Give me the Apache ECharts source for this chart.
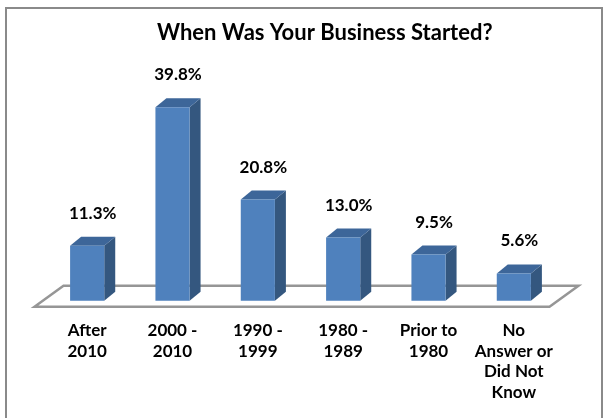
<!DOCTYPE html>
<html>
<head>
<meta charset="utf-8">
<script src="https://cdn.jsdelivr.net/npm/echarts@6/dist/echarts.min.js"></script>
<style>
  html, body { margin: 0; padding: 0; background: #fff; }
  #chart { width: 605px; height: 418px; }
</style>
</head>
<body>
<div id="chart"></div>
<script>
// data
var categories = ['After\n2010', '2000 -\n2010', '1990 -\n1999', '1980 -\n1989', 'Prior to\n1980', 'No\nAnswer or\nDid Not\nKnow'];
var shares = [11.3, 39.8, 20.8, 13.0, 9.5, 5.6];

var FONT = 'Lato, "Open Sans", sans-serif';
var DX = 11, DY = -9;   // depth offset of the 3d boxes

var chart = echarts.init(document.getElementById('chart'));

function renderBox(params, api) {
  var idx = api.value(0);
  var val = api.value(1);
  var top = api.coord([idx, val]);
  var base = api.coord([idx, 0]);
  var band = api.size([1, 0])[0];
  var w = band * 0.4;
  var x0 = top[0] - w / 2, x1 = top[0] + w / 2;
  var yt = top[1], yb = base[1];
  var children = [];

  if (params.dataIndex === 0) {
    // floor under the bars
    var cs = params.coordSys;
    var fb = yb - 15, ff = yb + 6;
    children.push({
      type: 'polygon',
      shape: { points: [[cs.x - 10, ff], [cs.x + 19, fb], [cs.x + cs.width + 22, fb], [cs.x + cs.width - 7, ff]] },
      style: { fill: '#fff', stroke: '#969696', lineWidth: 2.5 }
    });
  }

  children.push({
    type: 'polygon',
    shape: { points: [[x1, yt], [x1 + DX, yt + DY], [x1 + DX, yb + DY], [x1, yb]] },
    style: { fill: '#34577f' }
  });
  children.push({
    type: 'polygon',
    shape: { points: [[x0, yt], [x0 + DX, yt + DY], [x1 + DX, yt + DY], [x1, yt]] },
    style: { fill: '#3d6699' }
  });
  children.push({
    type: 'rect',
    shape: { x: x0, y: yt, width: w, height: yb - yt },
    style: { fill: '#4f81bd' }
  });
  children.push({
    type: 'text',
    x: top[0] + DX / 2,
    y: yt + DY - 15,
    style: {
      text: val.toFixed(1) + '%',
      fill: '#000',
      font: 'bold 17px ' + FONT,
      align: 'center',
      verticalAlign: 'bottom'
    }
  });
  return { type: 'group', children: children };
}

chart.setOption({
  animation: false,
  backgroundColor: '#fff',
  title: {
    text: 'When Was Your Business Started?',
    left: 152,
    top: 17,
    textStyle: { fontFamily: FONT, fontWeight: 'bold', fontSize: 22, color: '#000' }
  },
  graphic: [{
    type: 'rect',
    shape: { x: 6, y: 8, width: 596, height: 430 },
    style: { fill: null, stroke: '#8a8a8a', lineWidth: 2 },
    silent: true
  }],
  grid: { left: 44.5, right: 48.5, top: 57.7, bottom: 117.3 },
  xAxis: {
    type: 'category',
    data: categories,
    axisLine: { show: false },
    axisTick: { show: false },
    axisLabel: {
      margin: 20,
      interval: 0,
      color: '#000',
      fontFamily: FONT,
      fontWeight: 'bold',
      fontSize: 17,
      lineHeight: 20.5,
      verticalAlign: 'top'
    }
  },
  yAxis: { type: 'value', min: 0, max: 50, show: false },
  series: [{
    type: 'custom',
    renderItem: renderBox,
    encode: { x: 0, y: 1 },
    data: shares.map(function (v, i) { return [i, v]; })
  }]
});
</script>
</body>
</html>
